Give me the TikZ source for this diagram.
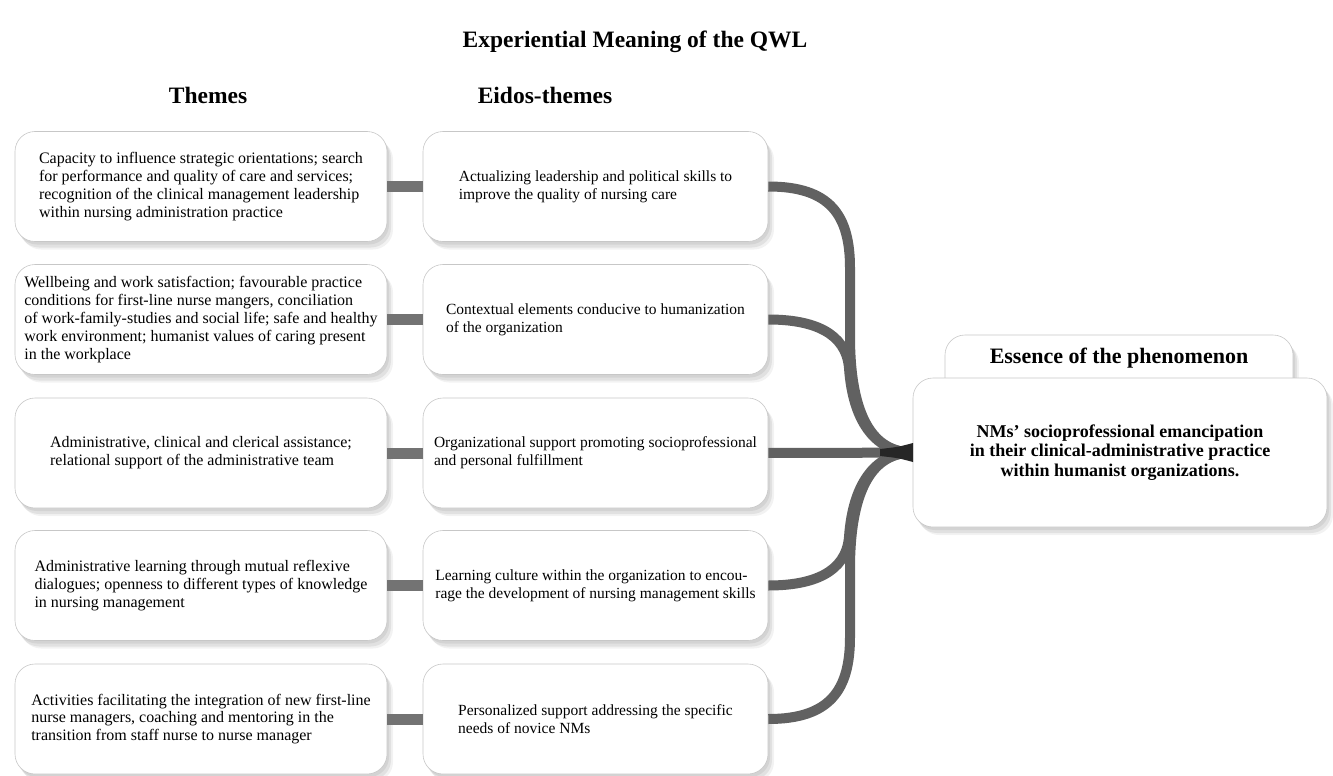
\documentclass[tikz,border=0pt]{standalone}
\usepackage{fontspec}
\setmainfont{Liberation Serif}
\usetikzlibrary{shadows}

\begin{document}
\begin{tikzpicture}[x=1pt,y=-1pt,
  box/.style={draw=black!22, line width=0.6pt, fill=white, rounded corners=20pt,
    minimum height=110pt, align=left, inner sep=0pt,
    font=\fontsize{16}{17.8}\selectfont,
    drop shadow={opacity=0.15, shadow xshift=2pt, shadow yshift=-3pt},
    drop shadow={opacity=0.15, shadow xshift=4pt, shadow yshift=-6pt},
    drop shadow={opacity=0.1, shadow xshift=6pt, shadow yshift=-8pt}},
  themebox/.style={box, minimum width=372pt},
  eidosbox/.style={box, minimum width=345pt, font=\fontsize{15.5}{17.8}\selectfont},
  heading/.style={font=\fontsize{23.5}{28}\selectfont\bfseries},
  bar/.style={line width=11pt, black!55},
  branch/.style={line width=10pt, black!62}]
\useasboundingbox (0,0) rectangle (1333,776);

% headings
\node[heading] (title) at (635,42) {Experiential Meaning of the QWL};
\node[heading] (themeshead) at (208,95) {Themes};
\node[heading] (eidoshead) at (545,95) {Eidos-themes};

% themes
\node[themebox] (t1) at (201,186.5) {Capacity to influence strategic orientations; search\\for performance and quality of care and services;\\recognition of the clinical management leadership\\within nursing administration practice};
\node[themebox] (t2) at (201,319.5) {Wellbeing and work satisfaction; favourable practice\\conditions for first-line nurse mangers, conciliation\\of work-family-studies and social life; safe and healthy\\work environment; humanist values of caring present\\in the workplace};
\node[themebox] (t3) at (201,453) {Administrative, clinical and clerical assistance;\\relational support of the administrative team};
\node[themebox] (t4) at (201,585.5) {Administrative learning through mutual reflexive\\dialogues; openness to different types of knowledge\\in nursing management};
\node[themebox] (t5) at (201,719) {Activities facilitating the integration of new first-line\\nurse managers, coaching and mentoring in the\\transition from staff nurse to nurse manager};

% eidos-themes
\node[eidosbox] (e1) at (595.5,186.5) {Actualizing leadership and political skills to\\improve the quality of nursing care};
\node[eidosbox] (e2) at (595.5,319.5) {Contextual elements conducive to humanization\\of the organization};
\node[eidosbox] (e3) at (595.5,453) {Organizational support promoting socioprofessional\\and personal fulfillment};
\node[eidosbox] (e4) at (595.5,585.5) {Learning culture within the organization to encou-\\rage the development of nursing management skills};
\node[eidosbox] (e5) at (595.5,719) {Personalized support addressing the specific\\needs of novice NMs};

\foreach \i in {1,...,5}
  \draw[bar] (t\i) -- (e\i);

% essence
\node[box, minimum width=348pt, minimum height=90pt] (esshead) at (1119,380) {};
\node[font=\fontsize{22}{26}\selectfont\bfseries] (esslabel) at (1119,358) {Essence of the phenomenon};
\node[box, minimum width=414pt, minimum height=149pt, align=center,
  font=\fontsize{18}{19.5}\selectfont\bfseries] (ess) at (1120,452.5)
  {NMs' socioprofessional emancipation\\in their clinical-administrative practice\\within humanist organizations.};

% branches into the essence
\draw[branch] (e1.east) .. controls (830,186.5) and (850,215) .. (850,268) -- (850,336) .. controls (850,418) and (874,452.5) .. (ess.west);
\draw[branch] (e2.east) .. controls (812,319.5) and (846,332) .. (849,368) .. controls (853,425) and (878,452.5) .. (ess.west);
\draw[branch] (e3) -- (ess);
\draw[branch] (e4.east) .. controls (812,585.5) and (846,573) .. (849,537) .. controls (853,480) and (878,452.5) .. (ess.west);
\draw[branch] (e5.east) .. controls (830,719) and (850,690) .. (850,637) -- (850,569) .. controls (850,487) and (874,452.5) .. (ess.west);
\fill[black!85] (913,443) .. controls (898,447) .. (880,449) -- (880,456) .. controls (898,458) .. (913,462) -- cycle;
\end{tikzpicture}
\end{document}
